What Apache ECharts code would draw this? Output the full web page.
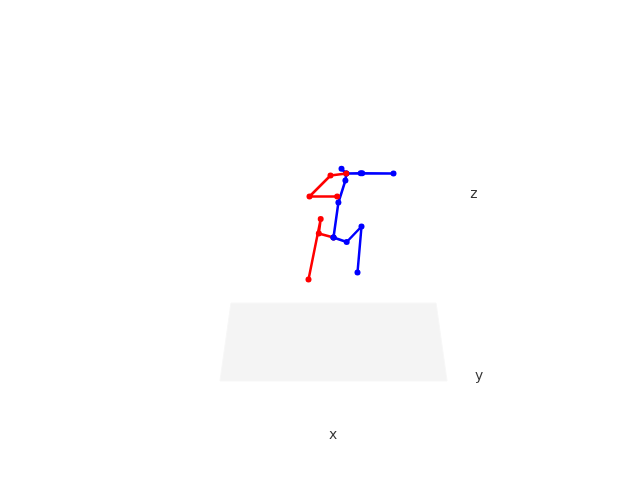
<!DOCTYPE html>
<html><head><meta charset="utf-8">
<style>html,body{margin:0;padding:0;background:#fff}#c{width:640px;height:480px}</style>
<script src="https://cdn.jsdelivr.net/npm/echarts@6/dist/echarts.min.js"></script>
</head><body><div id="c"></div>
<script>
const floorPlane = [[231,303],[436,303],[447,381],[220,381]];
const redLeg = [[308.5,279.5],[320.7,219],[318.8,233.5],[333.5,237.5]];
const redArm = [[337.2,196.5],[309.5,196.5],[330.5,175.5],[346.3,173.5]];
const blueSpine = [[333.5,237.5],[338.4,202.5],[345.4,180.5],[346.3,173.5],[341.5,168.8]];
const blueArm = [[346.3,173.5],[360.7,173.2],[362.2,173.2],[393.5,173.5]];
const blueLeg = [[333.5,237.5],[346.7,242],[361.5,226.5],[357.5,272.5]];
const axisLabels = [{name:'x',value:[333,435]},{name:'y',value:[479,376]},{name:'z',value:[474,194]}];
const RED='#ff0000', BLUE='#0000ff';
function limb(data,color,z){return {type:'line',data,z,color,symbol:'circle',symbolSize:6,showSymbol:true,
  lineStyle:{color,width:2.5},itemStyle:{color},silent:true,animation:false};}
const chart=echarts.init(document.getElementById('c'),null,{renderer:'canvas'});
chart.setOption({
  animation:false,backgroundColor:'#ffffff',
  grid:{left:0,right:0,top:0,bottom:0},
  xAxis:{type:'value',min:0,max:640,show:false},
  yAxis:{type:'value',min:0,max:480,inverse:true,show:false},
  series:[
    {type:'custom',z:1,silent:true,data:floorPlane,
     renderItem:(p,api)=>p.dataIndex===0?{type:'polygon',
       shape:{points:floorPlane.map(d=>api.coord(d))},
       style:{fill:'#f4f4f4',stroke:'#f7f7f7',lineWidth:1}}:null},
    limb(redLeg,RED,2),
    limb(blueSpine,BLUE,3),
    limb(blueLeg,BLUE,3),
    limb(blueArm,BLUE,3),
    limb(redArm,RED,4),
    {type:'scatter',z:5,symbolSize:0,data:axisLabels,silent:true,
     label:{show:true,position:'inside',formatter:'{b}',color:'#000000',textBorderWidth:0,
       fontFamily:'DejaVu Sans',fontSize:13.9,align:'center',verticalAlign:'middle'}}
  ]
});
</script></body></html>
